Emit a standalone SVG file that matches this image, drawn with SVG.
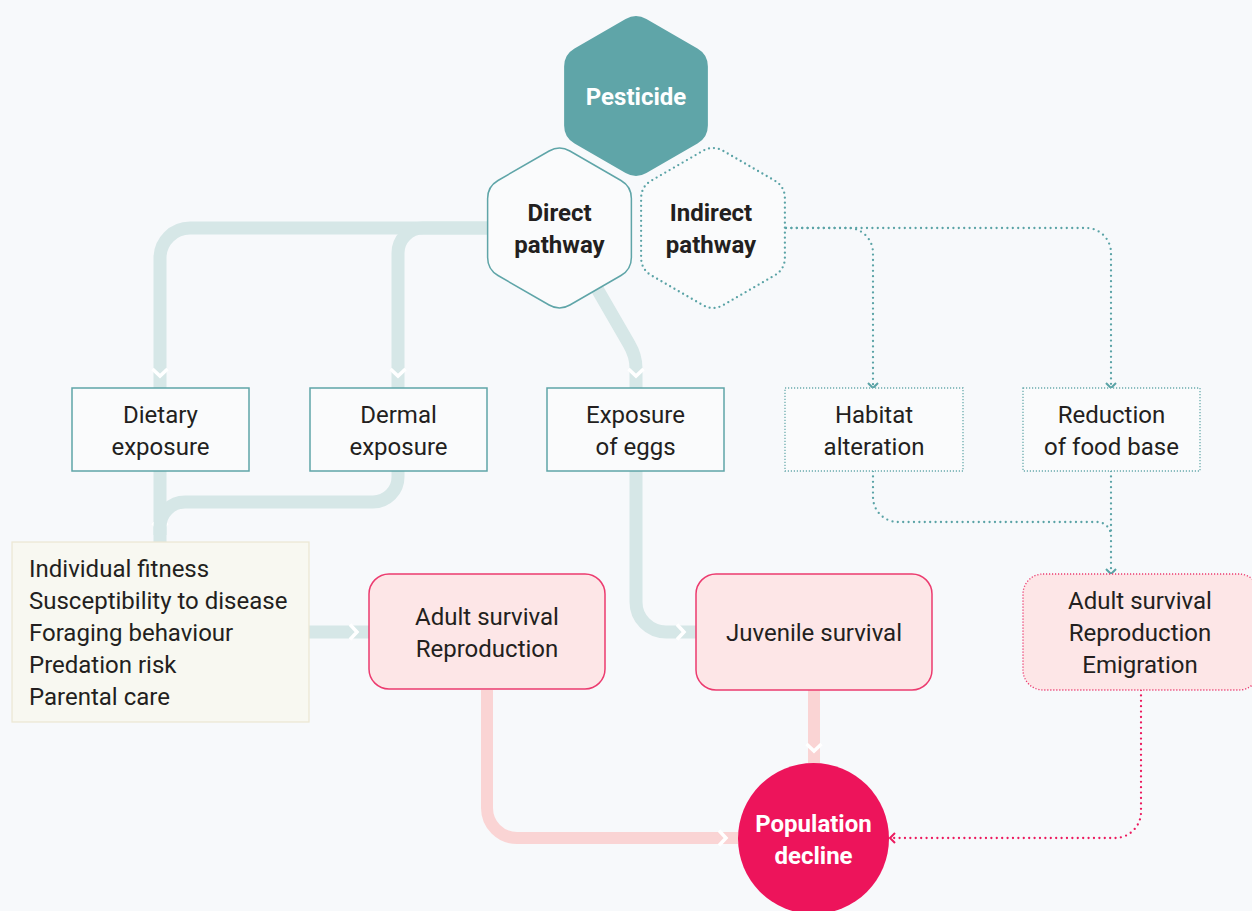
<svg xmlns="http://www.w3.org/2000/svg" xmlns:xlink="http://www.w3.org/1999/xlink" width="1252" height="911" viewBox="0 0 1252 911">
<style>
.t{font-family:Roboto,"Liberation Sans",sans-serif;font-size:24px;fill:#231f20;text-anchor:middle}
.b{font-weight:700}
.w{fill:#fff}
.l{text-anchor:start}
.thk{fill:none;stroke:#d6e7e7;stroke-width:13;marker-end:url(#chev)}
.pk{fill:none;stroke:#fad4d4;stroke-width:12;marker-end:url(#chev)}
.dt{fill:none;stroke:#5aa3a6;stroke-width:2.3;stroke-dasharray:0 5.4;stroke-linecap:round}
.dp{fill:none;stroke:#ec1a5e;stroke-width:2.3;stroke-dasharray:0 5.4;stroke-linecap:round}
.box{fill:#fafbfc;stroke:#5fa5a8;stroke-width:1.5}
.boxd{fill:#fafbfc;stroke:#6aabad;stroke-width:1.3;stroke-dasharray:1.2 1.8}
.pbox{fill:#fde6e7;stroke:#ec3b6f;stroke-width:1.5}
.pboxd{fill:#fde6e7;stroke:#ec3b6f;stroke-width:1.3;stroke-dasharray:1.2 1.8}
</style>
<defs>
<path id="hex" d="M10.39,-77 L61.48,-47.5 Q71.88,-41.5 71.88,-29.5 L71.88,29.5 Q71.88,41.5 61.48,47.5 L10.39,77 Q0,83 -10.39,77 L-61.48,47.5 Q-71.88,41.5 -71.88,29.5 L-71.88,-29.5 Q-71.88,-41.5 -61.48,-47.5 L-10.39,-77 Q0,-83 10.39,-77 Z"/>
<marker id="chev" markerUnits="userSpaceOnUse" viewBox="-20 -10 30 20" markerWidth="30" markerHeight="20" refX="12" refY="0" orient="auto" overflow="visible">
<polyline points="-7,-7.5 0,0 -7,7.5" fill="none" stroke="#fff" stroke-width="3.5"/>
</marker>
<marker id="vt" markerUnits="userSpaceOnUse" viewBox="-10 -10 20 20" markerWidth="20" markerHeight="20" refX="0" refY="0" orient="auto" overflow="visible">
<path d="M-5,-5 L0,0 L-5,5" fill="none" stroke="#5aa3a6" stroke-width="2"/>
</marker>
<marker id="vp" markerUnits="userSpaceOnUse" viewBox="-10 -10 20 20" markerWidth="20" markerHeight="20" refX="0" refY="0" orient="auto" overflow="visible">
<path d="M-5,-5 L0,0 L-5,5" fill="none" stroke="#ec1a5e" stroke-width="2"/>
</marker>
</defs>
<rect width="1252" height="911" fill="#f7f9fb"/>
<g id="connectors">
<path class="thk" d="M560 228 H190 A30 30 0 0 0 160 258 V388"/>
<path class="thk" d="M560 228 H423 A25 25 0 0 0 398 253 V388"/>
<path class="thk" d="M562 228 L629 344 Q636 356 636 368 V388"/>
<path class="thk" d="M160 471 V542"/>
<path class="thk" style="marker-end:none" d="M398 471 V477 A25 25 0 0 1 373 502 H185 A25 25 0 0 0 160 527 V535"/>
<path class="thk" d="M309 632 H369"/>
<path class="thk" d="M636 471 V602 A30 30 0 0 0 666 632 H696"/>
<path class="pk" d="M487 690 V808 A30 30 0 0 0 517 838 H738"/>
<path class="pk" d="M814 690 V763"/>
<path class="dt" style="marker-end:url(#vt)" d="M786 228 H848 A25 25 0 0 1 873 253 V388"/>
<path class="dt" style="marker-end:url(#vt)" d="M786 228 H1086 A25 25 0 0 1 1111 253 V388"/>
<path class="dt" d="M873 471 V497 A25 25 0 0 0 898 522 H1097 A14 14 0 0 1 1111 536"/>
<path class="dt" style="marker-end:url(#vt)" d="M1111 471 V574"/>
<path class="dp" style="marker-end:url(#vp)" d="M1141 690 V812 A26 26 0 0 1 1115 838 H890"/>
</g>
<g id="pesticide">
<use xlink:href="#hex" transform="translate(636 96)" fill="#5fa5a8"/>
<text class="t b w" x="636" y="105">Pesticide</text>
</g>
<g id="direct">
<use xlink:href="#hex" transform="translate(559.5 228)" fill="#fafbfc" stroke="#5fa5a8" stroke-width="1.5"/>
<text class="t b" x="559.5" y="221">Direct</text>
<text class="t b" x="559.5" y="253">pathway</text>
</g>
<g id="indirect">
<use xlink:href="#hex" transform="translate(713 228)" fill="#fafbfc" stroke="#5aa3a6" stroke-width="2.3" stroke-dasharray="0 5" stroke-linecap="round"/>
<text class="t b" x="711" y="221">Indirect</text>
<text class="t b" x="711" y="253">pathway</text>
</g>
<g id="dietary">
<rect class="box" x="72" y="388" width="177" height="83"/>
<text class="t" x="160.5" y="423">Dietary</text>
<text class="t" x="160.5" y="455">exposure</text>
</g>
<g id="dermal">
<rect class="box" x="310" y="388" width="177" height="83"/>
<text class="t" x="398.5" y="423">Dermal</text>
<text class="t" x="398.5" y="455">exposure</text>
</g>
<g id="eggs">
<rect class="box" x="547" y="388" width="177" height="83"/>
<text class="t" x="635.5" y="423">Exposure</text>
<text class="t" x="635.5" y="455">of eggs</text>
</g>
<g id="habitat">
<rect class="boxd" x="785" y="388" width="178" height="83"/>
<text class="t" x="874" y="423">Habitat</text>
<text class="t" x="874" y="455">alteration</text>
</g>
<g id="food">
<rect class="boxd" x="1023" y="388" width="177" height="83"/>
<text class="t" x="1111.5" y="423">Reduction</text>
<text class="t" x="1111.5" y="455">of food base</text>
</g>
<g id="individual">
<rect x="12" y="542" width="297" height="180" fill="#f8f8f1" stroke="#ece7d2" stroke-width="1.2"/>
<text class="t l" x="29" y="577">Individual fitness</text>
<text class="t l" x="29" y="609">Susceptibility to disease</text>
<text class="t l" x="29" y="641">Foraging behaviour</text>
<text class="t l" x="29" y="673">Predation risk</text>
<text class="t l" x="29" y="705">Parental care</text>
</g>
<g id="adult">
<rect class="pbox" x="369" y="574" width="236" height="115" rx="20"/>
<text class="t" x="487" y="625">Adult survival</text>
<text class="t" x="487" y="657">Reproduction</text>
</g>
<g id="juvenile">
<rect class="pbox" x="696" y="574" width="236" height="116" rx="20"/>
<text class="t" x="814" y="641">Juvenile survival</text>
</g>
<g id="adult2">
<rect class="pboxd" x="1023" y="574" width="236" height="116" rx="20"/>
<text class="t" x="1140" y="609">Adult survival</text>
<text class="t" x="1140" y="641">Reproduction</text>
<text class="t" x="1140" y="673">Emigration</text>
</g>
<g id="decline">
<circle cx="813.5" cy="838.5" r="75.5" fill="#ed145b"/>
<text class="t b w" x="813.5" y="832">Population</text>
<text class="t b w" x="813.5" y="864">decline</text>
</g>
</svg>
